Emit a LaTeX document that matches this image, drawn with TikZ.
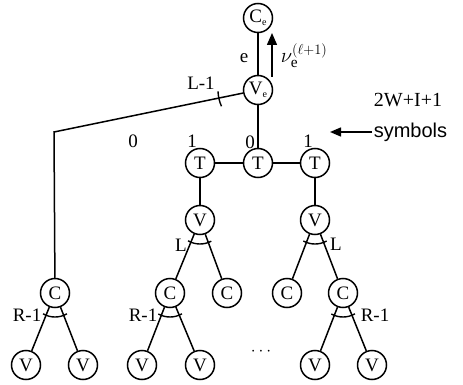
\documentclass[tikz,border=0pt]{standalone}
\usepackage{fontspec}
\setmainfont{Liberation Serif}
\setsansfont{Liberation Sans}
\usetikzlibrary{arrows.meta}
\begin{document}
\begin{tikzpicture}[x=1pt,y=1pt,line width=1.5pt,
  nd/.style={circle,draw,minimum size=29pt,inner sep=0pt,font=\fontsize{19}{19}\selectfont},
  lab/.style={inner sep=0pt,font=\fontsize{19}{19}\selectfont},
  angarc/.style={line width=1.4pt}]
\useasboundingbox (0,0) rectangle (463,-385);
\newcommand{\sube}{\raisebox{-.4ex}{\fontsize{10}{10}\selectfont e}}
% nodes
\node[nd] (Ce) at (258,-18) {C\sube};
\node[nd] (Ve) at (258,-90) {V\sube};
\node[nd] (T1) at (200,-163) {T};
\node[nd] (T2) at (258,-163) {T};
\node[nd] (T3) at (315,-163) {T};
\node[nd] (V1) at (200,-220) {V};
\node[nd] (V2) at (315,-220) {V};
\node[nd] (CL) at (55,-293) {C};
\node[nd] (C1) at (170,-293) {C};
\node[nd] (C2) at (227,-293) {C};
\node[nd] (C3) at (287,-293) {C};
\node[nd] (C4) at (343,-293) {C};
\node[nd] (B1) at (26,-365) {V};
\node[nd] (B2) at (83,-365) {V};
\node[nd] (B3) at (142,-365) {V};
\node[nd] (B4) at (200,-365) {V};
\node[nd] (B5) at (315,-365) {V};
\node[nd] (B6) at (372,-365) {V};
\coordinate (corner) at (54,-132);
\coordinate (arrS) at (272,-77);
\coordinate (arrE) at (272,-33);
\coordinate (symS) at (372,-132);
\coordinate (symE) at (330,-132);
% edges
\draw (Ce) -- (Ve);
\draw (Ve) -- (T2);
\draw (T1) -- (T2) -- (T3);
\draw (T1) -- (V1);
\draw (T3) -- (V2);
\draw (V1) -- (C1); \draw (V1) -- (C2);
\draw (V2) -- (C3); \draw (V2) -- (C4);
\draw (Ve) -- (corner) -- (CL);
\draw (CL) -- (B1); \draw (CL) -- (B2);
\draw (C1) -- (B3); \draw (C1) -- (B4);
\draw (C4) -- (B5); \draw (C4) -- (B6);
% angle arcs
\draw[angarc] ([shift={(182:40)}]Ve.center) arc[start angle=182,end angle=204,radius=40];
\draw[angarc] ([shift={(240:24)}]V1.center) arc[start angle=240,end angle=298,radius=24];
\draw[angarc] ([shift={(241:24)}]V2.center) arc[start angle=241,end angle=299,radius=24];
\draw[angarc] ([shift={(240:24)}]CL.center) arc[start angle=240,end angle=300,radius=24];
\draw[angarc] ([shift={(241:24)}]C1.center) arc[start angle=241,end angle=300,radius=24];
\draw[angarc] ([shift={(241:24)}]C4.center) arc[start angle=241,end angle=300,radius=24];
% arrows
\draw[-{Triangle[length=12pt,width=10pt]}] (arrS) -- (arrE);
\draw[-{Triangle[length=11pt,width=9pt]}] (symS) -- (symE);
% labels
\node[lab] (le) at (244,-58) {e};
\node[lab,anchor=west,font=\fontsize{22}{22}\selectfont] (lnu) at (280,-56) {$\nu_{\mathrm{e}}^{(\ell+1)}$};
\node[lab] (lL1) at (201,-83) {L-1};
\node[lab] (l0a) at (133,-141) {0};
\node[lab] (l1a) at (192,-141) {1};
\node[lab] (l0b) at (250,-142) {0};
\node[lab] (l1b) at (308,-141) {1};
\node[lab] (lLa) at (181,-245) {L};
\node[lab] (lLb) at (336,-244) {L};
\node[lab] (lR1) at (27,-315) {R-1};
\node[lab] (lR2) at (143,-315) {R-1};
\node[lab] (lR3) at (375,-315) {R-1};
\node[lab] (dots) at (261,-352) {$\cdots$};
\node[inner sep=0pt,font=\fontsize{20}{20}\selectfont] (t2w) at (408,-100) {2W+I+1};
\node[inner sep=0pt,anchor=west,font=\sffamily\fontsize{20}{20}\selectfont] (tsym) at (373,-132) {symbols};
\end{tikzpicture}
\end{document}
